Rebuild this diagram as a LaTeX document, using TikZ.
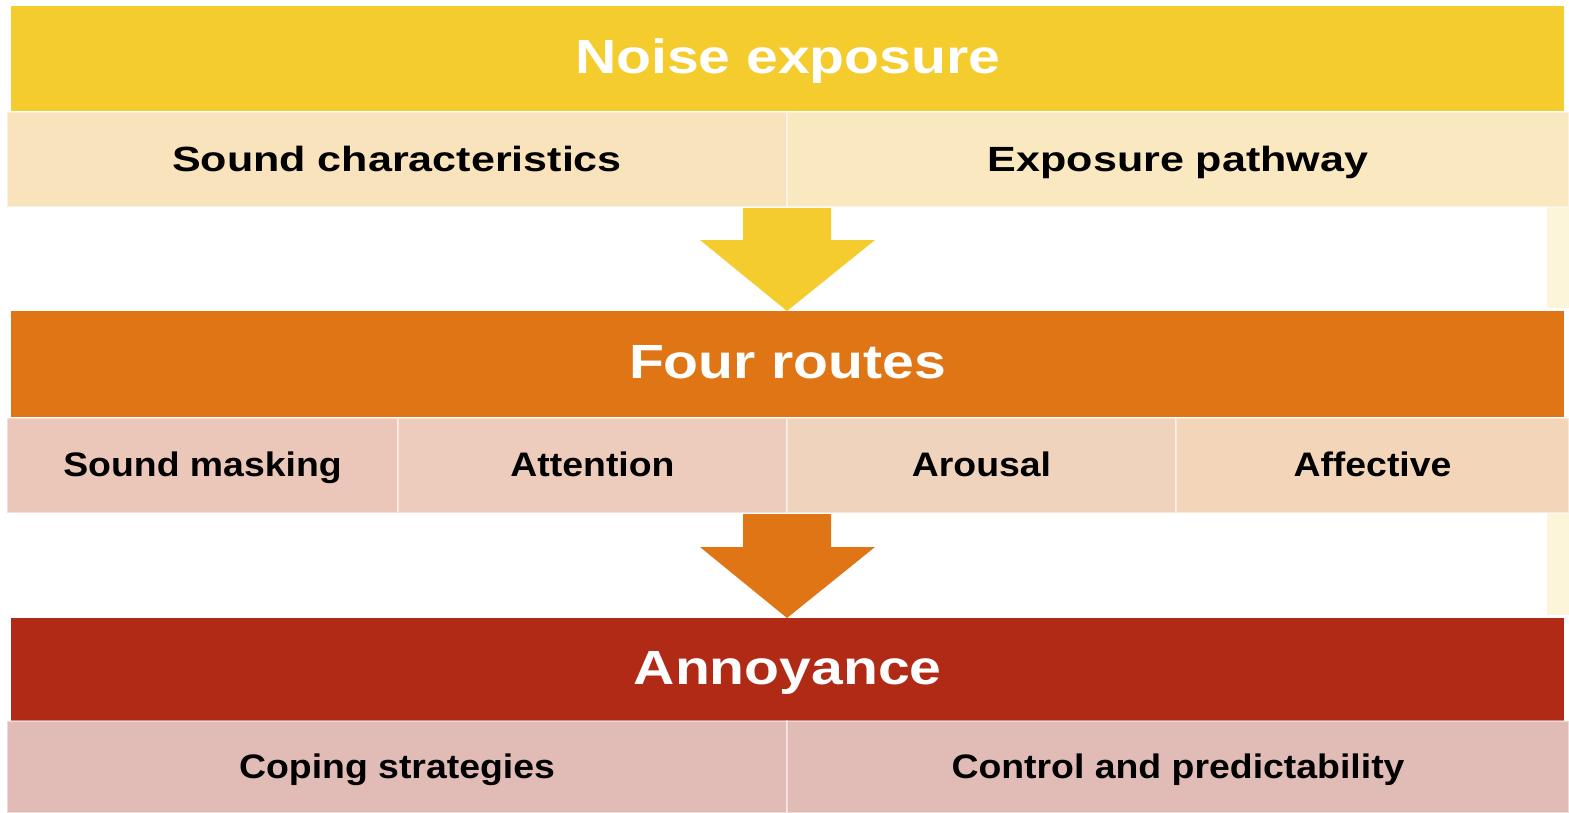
\documentclass[tikz,border=0pt]{standalone}
\usepackage{fontspec}
\setmainfont{Liberation Sans}
\newfontfamily\titlefont[FakeStretch=1.19]{Liberation Sans}
\newfontfamily\rowAfont[FakeStretch=1.23]{Liberation Sans}
\newfontfamily\rowBfont[FakeStretch=1.10]{Liberation Sans}
\usetikzlibrary{calc}
\definecolor{cYel}{HTML}{F4CC2E}
\definecolor{cCreamA}{HTML}{F9E3BC}
\definecolor{cCreamB}{HTML}{FAE8C1}
\definecolor{cOra}{HTML}{E07515}
\definecolor{cCellA}{HTML}{EBC7B9}
\definecolor{cCellB}{HTML}{EECCBB}
\definecolor{cCellC}{HTML}{F0D3BD}
\definecolor{cCellD}{HTML}{F3D6B9}
\definecolor{cRed}{HTML}{B02A16}
\definecolor{cRose}{HTML}{E1BCB7}
\definecolor{cStrip}{HTML}{FCF5DA}
\tikzset{
  titlebar/.style={anchor=north west, inner sep=0pt, text=white, text height=34pt, text depth=5pt, font=\titlefont\bfseries\fontsize{48}{56}\selectfont},
  cellbox/.style={anchor=north west, inner sep=0pt, draw=white, draw opacity=0.45, line width=2pt, text=black},
  cellA/.style={cellbox, text height=25pt, text depth=2pt, font=\rowAfont\bfseries\fontsize{35}{40}\selectfont},
  cellB/.style={cellbox, text height=24pt, text depth=2pt, font=\rowBfont\bfseries\fontsize{34}{40}\selectfont},
}
\begin{document}
\begin{tikzpicture}[x=1pt,y=-1pt]
\useasboundingbox (0,0) rectangle (1569,812);
\fill[white] (0,0) rectangle (1569,812);
% faint strips at right
\fill[cStrip] (1547,206) rectangle (1569,308);
\fill[cStrip] (1547,512) rectangle (1569,615);
% level 1
\node[titlebar, fill=cYel, minimum width=1553pt, minimum height=105pt] (ne) at (11,6) {Noise exposure};
\node[cellA, fill=cCreamA, minimum width=780pt, minimum height=95pt] (sc) at (6,111) {Sound characteristics};
\node[cellA, fill=cCreamB, minimum width=782pt, minimum height=95pt] (ep) at (786,111) {Exposure pathway};
% level 2
\node[titlebar, fill=cOra, minimum width=1553pt, minimum height=106pt] (fr) at (11,311) {Four routes};
\node[cellB, fill=cCellA, minimum width=391pt, minimum height=95pt] (sm) at (6,417) {Sound masking};
\node[cellB, fill=cCellB, minimum width=389pt, minimum height=95pt] (at) at (397,417) {Attention};
\node[cellB, fill=cCellC, minimum width=389pt, minimum height=95pt] (ar) at (786,417) {Arousal};
\node[cellB, fill=cCellD, minimum width=393pt, minimum height=95pt] (af) at (1175,417) {Affective};
% level 3
\node[titlebar, fill=cRed, minimum width=1553pt, minimum height=103pt] (an) at (11,618) {Annoyance};
\node[cellB, fill=cRose, minimum width=780pt, minimum height=92pt] (cs) at (6,720) {Coping strategies};
\node[cellB, fill=cRose, minimum width=782pt, minimum height=92pt] (cp) at (786,720) {Control and predictability};
% arrows
\coordinate (a1) at ($(sc.south east)!0.5!(ep.south west)$);
\coordinate (a2) at ($(at.south east)!0.5!(ar.south west)$);
\fill[cYel] ([xshift=-44pt]a1) -- ([xshift=44pt]a1) -- ([xshift=44pt,yshift=-32pt]a1) -- ([xshift=88pt,yshift=-32pt]a1) -- (a1 |- fr.north) -- ([xshift=-87pt,yshift=-32pt]a1) -- ([xshift=-44pt,yshift=-32pt]a1) -- cycle;
\fill[cOra] ([xshift=-44pt]a2) -- ([xshift=44pt]a2) -- ([xshift=44pt,yshift=-33pt]a2) -- ([xshift=88pt,yshift=-33pt]a2) -- (a2 |- an.north) -- ([xshift=-87pt,yshift=-33pt]a2) -- ([xshift=-44pt,yshift=-33pt]a2) -- cycle;
\end{tikzpicture}
\end{document}
